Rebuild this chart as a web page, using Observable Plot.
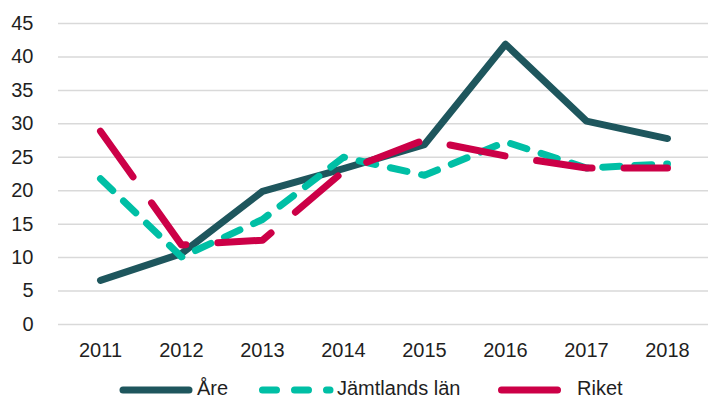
<!DOCTYPE html>
<html>
<head>
<meta charset="utf-8">
<script src="https://cdn.jsdelivr.net/npm/d3@7"></script>
<script src="https://cdn.jsdelivr.net/npm/@observablehq/plot@0.6"></script>
<style>
  html, body { margin: 0; padding: 0; background: #fff; }
  body { font-family: "Liberation Sans", Arial, sans-serif; width: 708px; height: 400px; overflow: hidden; }
  #legend { position: relative; width: 708px; height: 30px; }
  #legend span { position: absolute; top: 11px; font-size: 20px; line-height: 14px; color: #1f1f1f; white-space: nowrap; }
  #legend svg { position: absolute; left: 0; top: 0; }
</style>
</head>
<body>
<div id="chart"></div>
<div id="legend"></div>
<script>
const years = ["2011", "2012", "2013", "2014", "2015", "2016", "2017", "2018"];
const are = [6.6, 10.6, 19.9, 23.3, 26.9, 41.9, 30.4, 27.8];
const jamtland = [21.8, 10.1, 15.7, 25.0, 22.3, 27.3, 23.4, 24.0];
const riket = [28.9, 11.9, 12.6, 22.9, 27.6, 25.2, 23.4, 23.4];
const seriesNames = ["Åre", "Jämtlands län", "Riket"];
const seriesColors = ["#1E565D", "#00BFA5", "#CC0047"];
const yTicks = [0, 5, 10, 15, 20, 25, 30, 35, 40, 45];

const seriesValues = [are, jamtland, riket];
const dashes = [null, "17,15", "56,32"];
const tables = seriesValues.map((vals, i) => years.map((yr, j) => ({year: yr, value: vals[j], series: seriesNames[i]})));

const chart = Plot.plot({
  width: 708,
  height: 370,
  marginLeft: 58,
  marginRight: 0,
  marginTop: 23,
  marginBottom: 46,
  style: {fontFamily: "'Liberation Sans', Arial, sans-serif", fontSize: "20px", color: "#1f1f1f", background: "#fff", overflow: "visible"},
  x: {type: "point", domain: years, padding: 0.5, label: null},
  y: {domain: [0, 45], label: null},
  marks: [
    Plot.gridY(yTicks, {stroke: "#d9d9d9", strokeOpacity: 1, strokeWidth: 1.5}),
    Plot.axisX({tickSize: 0, tickPadding: 18.5, label: null, fill: "#1f1f1f"}),
    Plot.axisY(yTicks, {tickSize: 0, tickPadding: 25, label: null, fill: "#1f1f1f"}),
    ...tables.map((t, i) => Plot.line(t, {
      x: "year", y: "value",
      stroke: seriesColors[i], strokeWidth: 7,
      strokeLinecap: "round", strokeLinejoin: "round",
      strokeDasharray: dashes[i] || undefined
    }))
  ]
});
document.getElementById("chart").appendChild(chart);

// Legend
const legend = document.getElementById("legend");
const legendItems = [
  {x1: 123, x2: 189, text: 197, dash: null},
  {x1: 262.5, x2: 330, text: 337, dash: "14,18"},
  {x1: 501.5, x2: 557.5, text: 577, dash: null}
];
const ns = "http://www.w3.org/2000/svg";
const sw = document.createElementNS(ns, "svg");
sw.setAttribute("width", 708);
sw.setAttribute("height", 30);
legendItems.forEach((it, i) => {
  const ln = document.createElementNS(ns, "line");
  ln.setAttribute("x1", it.x1); ln.setAttribute("x2", it.x2);
  ln.setAttribute("y1", 20); ln.setAttribute("y2", 20);
  ln.setAttribute("stroke", seriesColors[i]);
  ln.setAttribute("stroke-width", 7);
  ln.setAttribute("stroke-linecap", "round");
  if (it.dash) ln.setAttribute("stroke-dasharray", it.dash);
  sw.appendChild(ln);
  const sp = document.createElement("span");
  sp.style.left = it.text + "px";
  sp.textContent = seriesNames[i];
  legend.appendChild(sp);
});
legend.insertBefore(sw, legend.firstChild);
</script>
</body>
</html>
